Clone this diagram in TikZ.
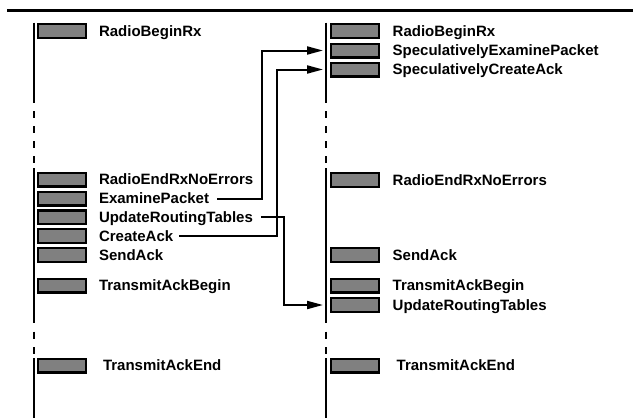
\documentclass[tikz,border=0pt]{standalone}
\usepackage{fontspec}
\setmainfont{Liberation Sans}
\usetikzlibrary{arrows.meta,calc}
\begin{document}
\begin{tikzpicture}[x=1pt,y=-1pt,
 evbox/.style={draw=black,line width=2.2pt,fill=gray,minimum width=48pt,minimum height=13.8pt,inner sep=0pt,outer sep=0pt},
 evlabel/.style={anchor=base west,inner sep=0pt,outer sep=0pt,font=\fontsize{15}{18}\selectfont\bfseries},
 tline/.style={line width=2pt},
 dlineA/.style={line width=2pt,dash pattern=on 7pt off 8pt},
 dlineB/.style={line width=2pt,dash pattern=on 7pt off 8.5pt},
 conn/.style={line width=2pt,-{Triangle[length=16pt,width=8pt]}}]
\useasboundingbox[fill=white] (0,0) rectangle (633,418);
% top rule
\draw[line width=3pt] (7,10.5) -- (633,10.5);
% timelines
\foreach \tx in {33.7,326.3}{
  \draw[tline] (\tx,22.7) -- (\tx,103);
  \draw[dlineA] (\tx,111) -- (\tx,164);
  \draw[tline] (\tx,168) -- (\tx,323);
  \draw[dlineB] (\tx,331.5) -- (\tx,354);
  \draw[tline] (\tx,358) -- (\tx,418);
}
% left column
\node[evbox] (lb1) at (62,31) {};
\node[evlabel] (ll1) at (99,36) {RadioBeginRx};
\node[evbox] (lb2) at (62,179.5) {};
\node[evlabel] (ll2) at (99,184.5) {RadioEndRxNoErrors};
\node[evbox] (lb3) at (62,198.5) {};
\node[evlabel] (ll3) at (99,203.5) {ExaminePacket};
\node[evbox] (lb4) at (62,217.3) {};
\node[evlabel] (ll4) at (99,222.3) {UpdateRoutingTables};
\node[evbox] (lb5) at (62,236) {};
\node[evlabel] (ll5) at (99,241) {CreateAck};
\node[evbox] (lb6) at (62,255) {};
\node[evlabel] (ll6) at (99,260) {SendAck};
\node[evbox] (lb7) at (62,285.5) {};
\node[evlabel] (ll7) at (99,290.5) {TransmitAckBegin};
\node[evbox] (lb8) at (62,365.5) {};
\node[evlabel] (ll8) at (103,370.5) {TransmitAckEnd};
% right column
\node[evbox] (rb1) at (355,31) {};
\node[evlabel] (rl1) at (392.7,36) {RadioBeginRx};
\node[evbox] (rb2) at (355,50.5) {};
\node[evlabel] (rl2) at (392.7,55.5) {SpeculativelyExaminePacket};
\node[evbox] (rb3) at (355,69.5) {};
\node[evlabel] (rl3) at (392.7,74.5) {SpeculativelyCreateAck};
\node[evbox] (rb4) at (355,180) {};
\node[evlabel] (rl4) at (392.7,185) {RadioEndRxNoErrors};
\node[evbox] (rb5) at (355,255) {};
\node[evlabel] (rl5) at (392.7,260) {SendAck};
\node[evbox] (rb6) at (355,285.5) {};
\node[evlabel] (rl6) at (392.7,290.5) {TransmitAckBegin};
\node[evbox] (rb7) at (355,305) {};
\node[evlabel] (rl7) at (392.7,310) {UpdateRoutingTables};
\node[evbox] (rb8) at (355,365.5) {};
\node[evlabel] (rl8) at (396.7,370.5) {TransmitAckEnd};
% connectors
\coordinate (s1) at ($(ll3.east |- lb3.center)+(8,0)$);
\coordinate (t1) at ($(rb2.west)+(-8,0)$);
\coordinate (s2) at ($(ll5.east |- lb5.center)+(6,0)$);
\coordinate (t2) at ($(rb3.west)+(-8,0)$);
\coordinate (s3) at ($(ll4.east |- lb4.center)+(8,0)$);
\coordinate (t3) at ($(rb7.west)+(-8,0)$);
\draw[conn] (s1) -- ++(45,0) |- (t1);
\draw[conn] (s2) -- ++(98,0) |- (t2);
\draw[conn] (s3) -- ++(23,0) |- (t3);
\end{tikzpicture}
\end{document}
